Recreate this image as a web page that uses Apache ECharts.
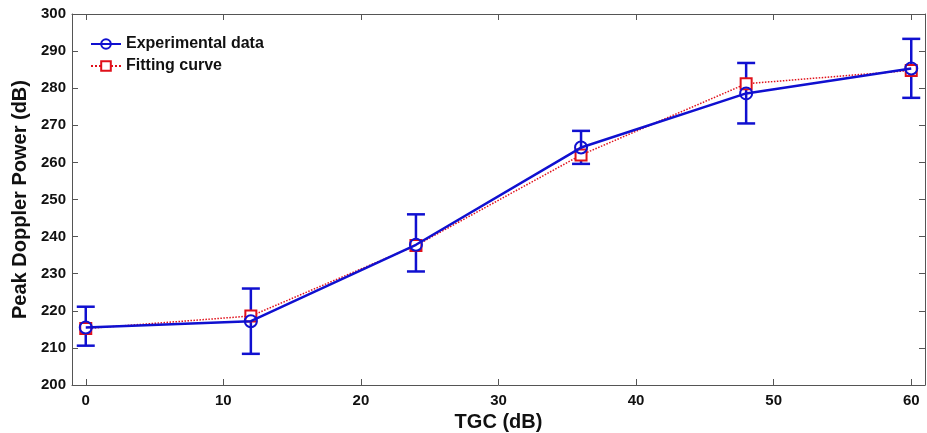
<!DOCTYPE html>
<html>
<head>
<meta charset="utf-8">
<script src="https://cdn.jsdelivr.net/npm/echarts@6/dist/echarts.min.js"></script>
<style>html,body{margin:0;padding:0;background:#fff}#c{width:927px;height:433px}</style>
</head>
<body>
<div id="c"></div>
<script>
var tgc = [0, 12, 24, 36, 48, 60];
var experimental = [215.5, 217.2, 237.8, 264.0, 278.6, 285.3];
var errLow = [210.6, 208.4, 230.6, 259.6, 270.5, 277.4];
var errHigh = [221.1, 226.0, 246.0, 268.5, 286.8, 293.3];
var fitting = [215.2, 218.6, 237.6, 262.0, 281.2, 284.8];
var xTicks = [0, 10, 20, 30, 40, 50, 60];
var yTicks = [200, 210, 220, 230, 240, 250, 260, 270, 280, 290, 300];

var BLUE = '#1010d0';
var RED = '#e0101a';
var FONT = 'Liberation Sans, Arial, sans-serif';

var expData = tgc.map(function (x, i) { return [x, experimental[i]]; });
var fitData = tgc.map(function (x, i) { return [x, fitting[i]]; });
var errData = tgc.map(function (x, i) { return [x, errLow[i], errHigh[i]]; });

var chart = echarts.init(document.getElementById('c'));
var axisCommon = {
  type: 'value',
  axisLine: { show: true, onZero: false, lineStyle: { color: '#555', width: 1 } },
  splitLine: { show: false }
};
var tickStyle = { show: true, inside: true, length: 6, lineStyle: { color: '#555' } };
chart.setOption({
  animation: false,
  backgroundColor: '#fff',
  grid: { left: 72, right: 2, top: 14, bottom: 48, outerBoundsMode: 'none', containLabel: false },
  legend: {
    left: 85, top: 31, orient: 'vertical', itemGap: 6,
    itemWidth: 30, itemHeight: 12,
    textStyle: { fontFamily: FONT, fontWeight: 'bold', fontSize: 16, color: '#111' },
    data: ['Experimental data', 'Fitting curve']
  },
  xAxis: [
    Object.assign({}, axisCommon, {
      min: -1, max: 61, position: 'bottom',
      axisLabel: {
        fontFamily: FONT, fontWeight: 'bold', fontSize: 15, color: '#111', margin: 8,
        customValues: xTicks
      },
      axisTick: Object.assign({}, tickStyle, { customValues: xTicks }),
      name: 'TGC (dB)', nameLocation: 'middle', nameGap: 27,
      nameTextStyle: { fontFamily: FONT, fontWeight: 'bold', fontSize: 20, color: '#111' }
    }),
    Object.assign({}, axisCommon, {
      min: -1, max: 61, position: 'top',
      axisLabel: { show: false },
      axisTick: Object.assign({}, tickStyle, { customValues: xTicks })
    })
  ],
  yAxis: [
    Object.assign({}, axisCommon, {
      min: 200, max: 300, position: 'left',
      axisLabel: { fontFamily: FONT, fontWeight: 'bold', fontSize: 15, color: '#111', margin: 6, customValues: yTicks },
      axisTick: Object.assign({}, tickStyle, { customValues: yTicks }),
      name: 'Peak Doppler Power (dB)', nameLocation: 'middle', nameGap: 42,
      nameTextStyle: { fontFamily: FONT, fontWeight: 'bold', fontSize: 20, color: '#111' }
    }),
    Object.assign({}, axisCommon, {
      min: 200, max: 300, position: 'right',
      axisLabel: { show: false },
      axisTick: Object.assign({}, tickStyle, { customValues: yTicks })
    })
  ],
  series: [
    {
      type: 'custom', name: 'err', z: 2,
      data: errData,
      renderItem: function (params, api) {
        var x = api.value(0);
        var lo = api.coord([x, api.value(1)]);
        var hi = api.coord([x, api.value(2)]);
        var hw = 9;
        var st = { stroke: BLUE, lineWidth: 2.5 };
        return {
          type: 'group',
          children: [
            { type: 'line', shape: { x1: lo[0], y1: lo[1], x2: hi[0], y2: hi[1] }, style: st },
            { type: 'line', shape: { x1: lo[0] - hw, y1: lo[1], x2: lo[0] + hw, y2: lo[1] }, style: st },
            { type: 'line', shape: { x1: hi[0] - hw, y1: hi[1], x2: hi[0] + hw, y2: hi[1] }, style: st }
          ]
        };
      }
    },
    {
      type: 'line', name: 'Fitting curve', z: 3,
      data: fitData,
      symbol: 'rect', symbolSize: 11,
      itemStyle: { color: '#fff', borderColor: RED, borderWidth: 2 },
      lineStyle: { color: RED, width: 1.5, type: 'dotted' }
    },
    {
      type: 'line', name: 'Experimental data', z: 4,
      data: expData,
      symbol: 'circle', symbolSize: 12,
      itemStyle: { color: 'rgba(255,255,255,0)', borderColor: BLUE, borderWidth: 2 },
      lineStyle: { color: BLUE, width: 2.5 }
    }
  ]
});
</script>
</body>
</html>
